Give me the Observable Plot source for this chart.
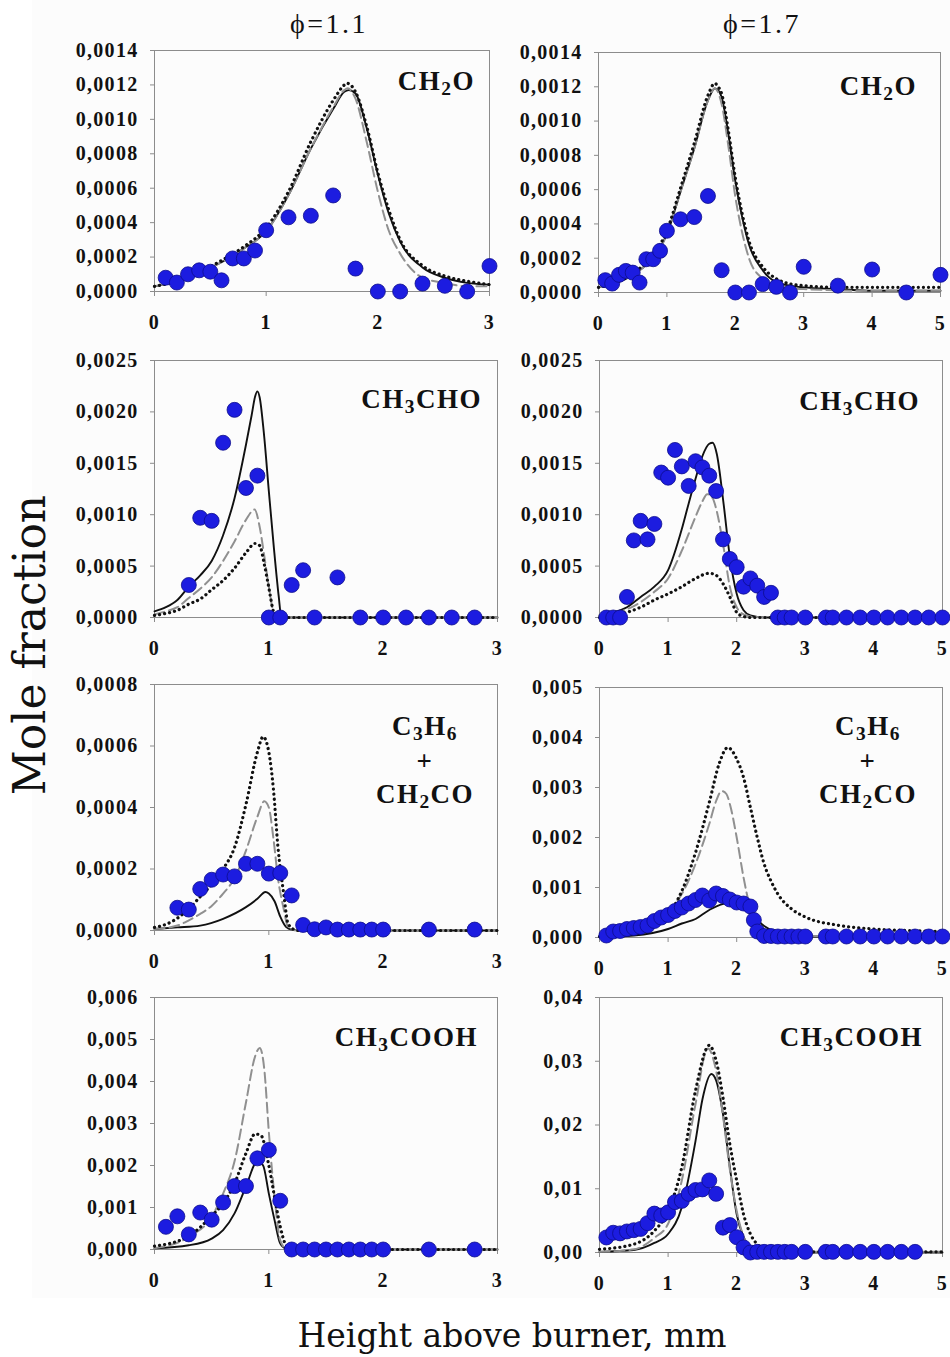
<!DOCTYPE html>
<html><head><meta charset="utf-8">
<script src="https://cdn.jsdelivr.net/npm/d3@7"></script>
<script src="https://cdn.jsdelivr.net/npm/@observablehq/plot@0.6"></script>
<style>
body{margin:0;background:#fff}
#wrap{position:relative;width:950px;height:1357px;overflow:hidden;background:#fff}
#bg{position:absolute;left:32px;top:0;width:918px;height:1298px;background:#fcfcfc}
.sp{position:absolute;font-family:"Liberation Serif",serif;font-weight:bold;font-size:27px;letter-spacing:1.5px;color:#111;white-space:nowrap;line-height:1}
.sp sub{font-size:0.72em;position:relative;top:0.28em;vertical-align:baseline}
.multi{line-height:33px;text-align:center;transform:translateX(-50%)}
.phi{position:absolute;font-family:"Liberation Serif",serif;font-size:28px;letter-spacing:2.5px;line-height:1;transform:translateX(-50%);white-space:nowrap;color:#111}
.axt{position:absolute;font-family:"DejaVu Serif",serif;line-height:1;white-space:nowrap;color:#111}
</style></head>
<body><div id="wrap"><div id="bg"></div></div>
<script>
// ---------- tick values ----------
const xTicks3 = [0, 1, 2, 3];
const xTicks5 = [0, 1, 2, 3, 4, 5];
const yTicksCH2O = [0, 0.0002, 0.0004, 0.0006, 0.0008, 0.0010, 0.0012, 0.0014];
const yTicksCH3CHO = [0, 0.0005, 0.0010, 0.0015, 0.0020, 0.0025];
const yTicksC3H6_11 = [0, 0.0002, 0.0004, 0.0006, 0.0008];
const yTicksC3H6_17 = [0, 0.001, 0.002, 0.003, 0.004, 0.005];
const yTicksACID_11 = [0, 0.001, 0.002, 0.003, 0.004, 0.005, 0.006];
const yTicksACID_17 = [0, 0.01, 0.02, 0.03, 0.04];

// ---------- CH2O, phi = 1.1 ----------
const ch2o11Exp = [[0.1,0.00008],[0.2,0.000052],[0.3,0.0001],[0.4,0.000123],[0.5,0.000115],[0.6,0.000065],[0.7,0.000192],[0.8,0.000192],[0.9,0.000238],[1.0,0.000356],[1.2,0.000431],[1.4,0.00044],[1.6,0.000558],[1.8,0.000133],[2.0,0],[2.2,0],[2.4,0.000046],[2.6,0.000033],[2.8,0],[3.0,0.000148]];
const ch2o11Solid = [[0,0.00003],[0.2,0.00006],[0.4,0.00011],[0.6,0.00017],[0.8,0.00025],[1.0,0.00035],[1.2,0.00056],[1.4,0.00083],[1.6,0.00106],[1.7,0.00116],[1.74,0.00117],[1.8,0.00115],[1.9,0.00095],[2.0,0.00068],[2.1,0.00045],[2.2,0.00029],[2.4,0.00014],[2.6,0.00008],[2.8,0.00005],[3.0,0.00004]];
const ch2o11Dashed = [[0,0.00003],[0.2,0.00006],[0.4,0.00011],[0.6,0.00017],[0.8,0.00025],[1.0,0.00035],[1.2,0.00056],[1.4,0.00083],[1.6,0.00107],[1.7,0.00117],[1.73,0.00118],[1.8,0.00112],[1.9,0.00087],[2.0,0.00058],[2.1,0.00035],[2.2,0.00022],[2.4,0.00008],[2.6,0.00005],[2.8,0.00003],[3.0,0.00003]];
const ch2o11Dotted = [[0,0.00003],[0.2,0.00006],[0.4,0.00011],[0.6,0.00018],[0.8,0.00026],[1.0,0.00037],[1.2,0.00058],[1.4,0.00087],[1.6,0.00111],[1.7,0.0012],[1.72,0.00121],[1.8,0.00116],[1.9,0.00096],[2.0,0.00069],[2.1,0.00047],[2.2,0.0003],[2.4,0.00015],[2.6,0.00009],[2.8,0.00006],[3.0,0.00004]];

// ---------- CH2O, phi = 1.7 ----------
const ch2o17Exp = [[0.1,0.000072],[0.2,0.000052],[0.3,0.000103],[0.4,0.000126],[0.5,0.000116],[0.6,0.000058],[0.7,0.000194],[0.8,0.000194],[0.9,0.000243],[1.0,0.00036],[1.2,0.000427],[1.4,0.00044],[1.6,0.000563],[1.8,0.00013],[2.0,0],[2.2,0],[2.4,0.000049],[2.6,0.000033],[2.8,0],[3.0,0.00015],[3.5,0.00004],[4.0,0.000134],[4.5,0],[5.0,0.000103]];
const ch2o17Solid = [[0,0.00003],[0.2,0.00005],[0.4,0.00008],[0.6,0.00013],[0.8,0.0002],[1.0,0.00034],[1.2,0.00059],[1.4,0.00084],[1.6,0.00112],[1.7,0.00119],[1.75,0.00118],[1.8,0.00114],[1.9,0.00092],[2.0,0.00065],[2.1,0.00044],[2.2,0.00028],[2.4,0.00013],[2.6,0.00006],[2.8,0.00004],[3.0,0.00003],[3.5,0.00002],[4.0,0.00001],[5.0,0.00001]];
const ch2o17Dashed = [[0,0.00003],[0.2,0.00005],[0.4,0.00008],[0.6,0.00013],[0.8,0.0002],[1.0,0.00034],[1.2,0.00059],[1.4,0.00084],[1.6,0.00112],[1.7,0.00119],[1.8,0.0011],[1.9,0.00085],[2.0,0.00056],[2.1,0.00035],[2.2,0.0002],[2.4,0.00008],[2.6,0.00004],[3.0,0.00002],[4.0,0.00001],[5.0,0.00001]];
const ch2o17Dotted = [[0,0.00003],[0.2,0.00005],[0.4,0.00009],[0.6,0.00014],[0.8,0.00022],[1.0,0.00036],[1.2,0.00061],[1.4,0.00087],[1.6,0.00115],[1.7,0.00122],[1.75,0.0012],[1.8,0.00116],[1.9,0.00094],[2.0,0.00067],[2.1,0.00046],[2.2,0.0003],[2.4,0.00015],[2.6,0.00008],[2.8,0.00005],[3.0,0.00004],[3.5,0.00003],[4.0,0.00003],[5.0,0.00003]];

// ---------- CH3CHO, phi = 1.1 ----------
const ch3cho11Exp = [[0.3,0.000316],[0.4,0.00097],[0.5,0.00094],[0.6,0.0017],[0.7,0.00202],[0.8,0.00126],[0.9,0.00138],[1.0,0],[1.1,0],[1.2,0.000316],[1.3,0.00046],[1.4,0],[1.6,0.00039],[1.8,0],[2.0,0],[2.2,0],[2.4,0],[2.6,0],[2.8,0]];
const ch3cho11Solid = [[0,0.00006],[0.1,0.0001],[0.2,0.00017],[0.3,0.0003],[0.4,0.00041],[0.5,0.00055],[0.6,0.0008],[0.7,0.00116],[0.8,0.00168],[0.85,0.00197],[0.88,0.00215],[0.9,0.0022],[0.92,0.00214],[0.956,0.0018],[1.0,0.00123],[1.044,0.00068],[1.087,0.0002],[1.11,0],[1.5,0],[3.0,0]];
const ch3cho11Dashed = [[0,0.00003],[0.1,0.00006],[0.2,0.0001],[0.3,0.00019],[0.4,0.00028],[0.5,0.00039],[0.6,0.00055],[0.7,0.00074],[0.8,0.00095],[0.875,0.00105],[0.92,0.00088],[0.96,0.0006],[1.0,0.0003],[1.04,0.00005],[1.07,0],[1.5,0],[3.0,0]];
const ch3cho11Dotted = [[0,0.00002],[0.1,0.00004],[0.2,0.00007],[0.3,0.00013],[0.4,0.00018],[0.5,0.00027],[0.6,0.00036],[0.7,0.00048],[0.8,0.00063],[0.88,0.00072],[0.92,0.0007],[0.96,0.00052],[1.0,0.00029],[1.04,0.00006],[1.07,0],[1.5,0],[3.0,0]];

// ---------- CH3CHO, phi = 1.7 ----------
const ch3cho17Exp = [[0.1,0],[0.2,0],[0.3,0],[0.4,0.0002],[0.5,0.00075],[0.6,0.00094],[0.7,0.00076],[0.8,0.00091],[0.9,0.00141],[1.0,0.00136],[1.1,0.00163],[1.2,0.00147],[1.3,0.00128],[1.4,0.00152],[1.5,0.00146],[1.6,0.00138],[1.7,0.00123],[1.8,0.00076],[1.9,0.00057],[2.0,0.00049],[2.1,0.0003],[2.2,0.00038],[2.3,0.00031],[2.4,0.0002],[2.5,0.00024],[2.6,0],[2.7,0],[2.8,0],[3.0,0],[3.3,0],[3.4,0],[3.6,0],[3.8,0],[4.0,0],[4.2,0],[4.4,0],[4.6,0],[4.8,0],[5.0,0]];
const ch3cho17Solid = [[0,0.00002],[0.2,0.00005],[0.4,0.0001],[0.6,0.0002],[0.8,0.0003],[1.0,0.00046],[1.2,0.00086],[1.3,0.00111],[1.4,0.00135],[1.5,0.00157],[1.6,0.00169],[1.65,0.0017],[1.71,0.00159],[1.81,0.0011],[1.9,0.00059],[2.0,0.00023],[2.1,0.00007],[2.2,0.00002],[2.4,0],[5.0,0]];
const ch3cho17Dashed = [[0,0.00002],[0.2,0.00004],[0.4,0.00008],[0.6,0.00015],[0.8,0.00025],[1.0,0.00038],[1.2,0.00065],[1.4,0.00098],[1.5,0.00113],[1.57,0.0012],[1.65,0.00116],[1.7,0.00106],[1.8,0.00072],[1.9,0.0003],[2.0,0.0001],[2.1,0.00003],[2.2,0.00001],[2.4,0],[5.0,0]];
const ch3cho17Dotted = [[0,0],[0.2,0.00002],[0.4,0.00005],[0.6,0.0001],[0.8,0.00017],[1.0,0.00023],[1.2,0.0003],[1.4,0.00038],[1.6,0.00043],[1.7,0.00041],[1.8,0.00033],[1.9,0.0002],[2.0,0.00005],[2.1,0.00001],[2.2,0],[5.0,0]];

// ---------- C3H6 + CH2CO, phi = 1.1 ----------
const c3h611Exp = [[0.2,0.000074],[0.3,0.000068],[0.4,0.000135],[0.5,0.000165],[0.6,0.000182],[0.7,0.000176],[0.8,0.000217],[0.9,0.000217],[1.0,0.000185],[1.1,0.000187],[1.2,0.000114],[1.3,0.000018],[1.4,0.000004],[1.5,0.00001],[1.6,0.000003],[1.7,0.000003],[1.8,0.000003],[1.9,0.000003],[2.0,0.000003],[2.4,0.000003],[2.8,0.000003]];
const c3h611Solid = [[0,0.000005],[0.2,0.00001],[0.4,0.000016],[0.6,0.000038],[0.8,0.000076],[0.9,0.000103],[0.97,0.000125],[1.0,0.00012],[1.05,0.000095],[1.1,0.000045],[1.15,0.000012],[1.2,0.000003],[1.3,0],[3.0,0]];
const c3h611Dashed = [[0,0.000005],[0.2,0.000016],[0.3,0.000033],[0.4,0.000054],[0.5,0.00008],[0.6,0.00012],[0.7,0.00017],[0.8,0.00026],[0.9,0.00037],[0.96,0.00042],[1.0,0.0004],[1.04,0.0003],[1.08,0.00017],[1.13,0.00007],[1.17,0.00001],[1.25,0],[3.0,0]];
const c3h611Dotted = [[0,0.00001],[0.1,0.00002],[0.2,0.00004],[0.3,0.00007],[0.4,0.00011],[0.5,0.00015],[0.6,0.0002],[0.7,0.00027],[0.8,0.00041],[0.9,0.00058],[0.95,0.00063],[1.0,0.00058],[1.04,0.00046],[1.08,0.00027],[1.13,0.00012],[1.17,0.00002],[1.25,0],[3.0,0]];

// ---------- C3H6 + CH2CO, phi = 1.7 ----------
const c3h617Exp = [[0.1,0.00004],[0.2,0.00012],[0.3,0.00013],[0.4,0.00017],[0.5,0.00019],[0.6,0.00021],[0.7,0.00024],[0.8,0.00033],[0.9,0.0004],[1.0,0.00045],[1.1,0.00053],[1.2,0.0006],[1.3,0.00068],[1.4,0.00075],[1.5,0.00084],[1.6,0.00074],[1.7,0.00088],[1.8,0.00083],[1.9,0.00076],[2.0,0.0007],[2.1,0.00068],[2.2,0.00062],[2.25,0.00035],[2.3,0.00012],[2.4,0.00003],[2.5,0.00003],[2.6,0.00002],[2.7,0.00002],[2.8,0.00002],[2.9,0.00002],[3.0,0.00002],[3.3,0.00002],[3.4,0.00002],[3.6,0.00002],[3.8,0.00002],[4.0,0.00002],[4.2,0.00002],[4.4,0.00002],[4.6,0.00002],[4.8,0.00002],[5.0,0.00002]];
const c3h617Solid = [[0,0.00001],[0.5,0.00004],[1.0,0.00017],[1.2,0.00028],[1.4,0.00037],[1.6,0.00055],[1.85,0.00068],[2.0,0.00064],[2.2,0.00048],[2.4,0.00023],[2.6,0.00009],[2.8,0.00004],[3.0,0.00002],[5.0,0.00001]];
const c3h617Dashed = [[0,0.00002],[0.5,0.0001],[1.0,0.00052],[1.2,0.00087],[1.4,0.00147],[1.6,0.00227],[1.7,0.00273],[1.78,0.00293],[1.85,0.00287],[1.9,0.00267],[2.0,0.002],[2.1,0.0012],[2.2,0.00057],[2.3,0.0002],[2.4,0.00008],[2.6,0.00004],[3.0,0.00003],[5.0,0.00003]];
const c3h617Dotted = [[0,0.00002],[0.5,0.00013],[1.0,0.00047],[1.2,0.00093],[1.4,0.0017],[1.6,0.0027],[1.75,0.0035],[1.87,0.0038],[2.0,0.00357],[2.1,0.0032],[2.2,0.0026],[2.3,0.002],[2.4,0.00147],[2.5,0.00113],[2.6,0.00087],[2.8,0.00057],[3.0,0.00041],[3.5,0.00024],[4.0,0.00017],[4.5,0.00014],[5.0,0.00012]];

// ---------- CH3COOH, phi = 1.1 ----------
const acid11Exp = [[0.1,0.00054],[0.2,0.00079],[0.3,0.00036],[0.4,0.00088],[0.5,0.00071],[0.6,0.00112],[0.7,0.00151],[0.8,0.00151],[0.9,0.00217],[1.0,0.00237],[1.1,0.00116],[1.2,0],[1.3,0],[1.4,0],[1.5,0],[1.6,0],[1.7,0],[1.8,0],[1.9,0],[2.0,0],[2.4,0],[2.8,0]];
const acid11Solid = [[0,0.00003],[0.3,0.0001],[0.5,0.00026],[0.6,0.00046],[0.7,0.00086],[0.8,0.0015],[0.9,0.0021],[0.95,0.002],[1.0,0.00133],[1.05,0.0007],[1.1,0.00014],[1.15,0.00002],[1.2,0],[3.0,0]];
const acid11Dashed = [[0,0.00003],[0.3,0.0003],[0.5,0.00078],[0.6,0.00133],[0.7,0.0021],[0.8,0.0035],[0.88,0.0046],[0.92,0.0048],[0.96,0.0043],[1.0,0.0028],[1.05,0.00125],[1.1,0.00022],[1.15,0.00002],[1.2,0],[3.0,0]];
const acid11Dotted = [[0,0.00008],[0.3,0.00032],[0.5,0.0008],[0.6,0.0011],[0.7,0.00157],[0.8,0.00229],[0.88,0.00275],[0.93,0.00272],[1.0,0.002],[1.05,0.00125],[1.1,0.00054],[1.15,0.0001],[1.2,0],[3.0,0]];

// ---------- CH3COOH, phi = 1.7 ----------
const acid17Exp = [[0.1,0.00236],[0.2,0.0031],[0.3,0.003],[0.4,0.0033],[0.5,0.0035],[0.6,0.0037],[0.7,0.0046],[0.8,0.0061],[0.9,0.0058],[1.0,0.0063],[1.1,0.0079],[1.2,0.0081],[1.3,0.0092],[1.4,0.0098],[1.5,0.0099],[1.6,0.0113],[1.7,0.0092],[1.8,0.0039],[1.9,0.0043],[2.0,0.0024],[2.1,0.0008],[2.2,0],[2.3,0.0001],[2.4,0.0001],[2.5,0.0001],[2.6,0.0001],[2.7,0.0001],[2.8,0.0001],[3.0,0.0001],[3.3,0.0001],[3.4,0.0001],[3.6,0.0001],[3.8,0.0001],[4.0,0.0001],[4.2,0.0001],[4.4,0.0001],[4.6,0.0001]];
const acid17Solid = [[0,0.0001],[0.5,0.0004],[0.8,0.0015],[1.0,0.0029],[1.2,0.0071],[1.4,0.0175],[1.5,0.024],[1.63,0.028],[1.7,0.027],[1.8,0.0217],[1.9,0.0134],[2.0,0.006],[2.1,0.0024],[2.2,0.0008],[2.3,0.0002],[2.5,0],[5.0,0]];
const acid17Dashed = [[0,0.0001],[0.5,0.0005],[0.8,0.0023],[1.0,0.0045],[1.2,0.0113],[1.4,0.0233],[1.58,0.032],[1.7,0.0285],[1.8,0.0215],[1.9,0.013],[2.0,0.0065],[2.1,0.0025],[2.2,0.0008],[2.4,0.0002],[3.0,0.0001],[5.0,0.0001]];
const acid17Dotted = [[0,0.0005],[0.5,0.0013],[0.8,0.0034],[1.0,0.0065],[1.2,0.0134],[1.4,0.0254],[1.6,0.0325],[1.7,0.0301],[1.8,0.0243],[1.9,0.017],[2.0,0.0113],[2.1,0.006],[2.2,0.0029],[2.3,0.0013],[2.4,0.0006],[2.6,0.0002],[3.0,0.0001],[5.0,0.0001]];

const wrap = document.getElementById("wrap");

function panel(cfg) {
  const mT = 20, mB = 45, mR = 12;
  const mL = cfg.frameL - cfg.left;
  const width = cfg.frameR - cfg.left + mR;
  const height = cfg.frameB - cfg.frameT + mT + mB;
  const fmt = d => d.toFixed(cfg.dec).replace(".", ",");
  const X = d => d[0], Y = d => d[1];
  const chart = Plot.plot({
    width, height,
    marginLeft: mL, marginRight: mR, marginTop: mT, marginBottom: mB,
    x: {domain: [0, cfg.xmax]},
    y: {domain: [0, cfg.ymax]},
    style: {fontFamily: '"Liberation Serif", serif', fontWeight: "bold", fontSize: "20px", letterSpacing: "1.3px", color: "#111", background: "transparent", overflow: "visible"},
    marks: [
      Plot.frame({stroke: "#8c8c8c", strokeWidth: 1}),
      Plot.axisX({ticks: cfg.xTicks, tickFormat: d => String(d), tickSize: 5, tickPadding: 18, label: null, stroke: "#8c8c8c"}),
      Plot.axisY({ticks: cfg.yTicks, tickFormat: fmt, tickSize: 4, tickPadding: 12, label: null, stroke: "#8c8c8c"}),
      Plot.line(cfg.solid, {x: X, y: Y, stroke: "#111", strokeWidth: 1.9, curve: "monotone-x"}),
      Plot.line(cfg.dashed, {x: X, y: Y, stroke: "#909090", strokeWidth: 2, strokeDasharray: "10,5", curve: "monotone-x"}),
      Plot.line(cfg.dotted, {x: X, y: Y, stroke: "#111", strokeWidth: 3.2, strokeLinecap: "round", strokeDasharray: "0.1,5", curve: "monotone-x"}),
      Plot.dot(cfg.exp, {x: X, y: Y, r: 7.5, fill: "#1c1ce0", stroke: "#0c0c8c", strokeWidth: 0.8})
    ]
  });
  chart.style.position = "absolute";
  chart.style.left = cfg.left + "px";
  chart.style.top = (cfg.frameT - mT) + "px";
  wrap.appendChild(chart);
}

const LEFT = 55, RIGHT = 500;
panel({left: LEFT, frameL: 154, frameR: 489, frameT: 50, frameB: 291, xmax: 3, ymax: 0.0014, xTicks: xTicks3, yTicks: yTicksCH2O, dec: 4, exp: ch2o11Exp, solid: ch2o11Solid, dashed: ch2o11Dashed, dotted: ch2o11Dotted});
panel({left: RIGHT, frameL: 598, frameR: 940, frameT: 52, frameB: 292, xmax: 5, ymax: 0.0014, xTicks: xTicks5, yTicks: yTicksCH2O, dec: 4, exp: ch2o17Exp, solid: ch2o17Solid, dashed: ch2o17Dashed, dotted: ch2o17Dotted});
panel({left: LEFT, frameL: 154, frameR: 497, frameT: 360, frameB: 617, xmax: 3, ymax: 0.0025, xTicks: xTicks3, yTicks: yTicksCH3CHO, dec: 4, exp: ch3cho11Exp, solid: ch3cho11Solid, dashed: ch3cho11Dashed, dotted: ch3cho11Dotted});
panel({left: RIGHT, frameL: 599, frameR: 942, frameT: 360, frameB: 617, xmax: 5, ymax: 0.0025, xTicks: xTicks5, yTicks: yTicksCH3CHO, dec: 4, exp: ch3cho17Exp, solid: ch3cho17Solid, dashed: ch3cho17Dashed, dotted: ch3cho17Dotted});
panel({left: LEFT, frameL: 154, frameR: 497, frameT: 684, frameB: 930, xmax: 3, ymax: 0.0008, xTicks: xTicks3, yTicks: yTicksC3H6_11, dec: 4, exp: c3h611Exp, solid: c3h611Solid, dashed: c3h611Dashed, dotted: c3h611Dotted});
panel({left: RIGHT, frameL: 599, frameR: 942, frameT: 687, frameB: 937, xmax: 5, ymax: 0.005, xTicks: xTicks5, yTicks: yTicksC3H6_17, dec: 3, exp: c3h617Exp, solid: c3h617Solid, dashed: c3h617Dashed, dotted: c3h617Dotted});
panel({left: LEFT, frameL: 154, frameR: 497, frameT: 997, frameB: 1249, xmax: 3, ymax: 0.006, xTicks: xTicks3, yTicks: yTicksACID_11, dec: 3, exp: acid11Exp, solid: acid11Solid, dashed: acid11Dashed, dotted: acid11Dotted});
panel({left: RIGHT, frameL: 599, frameR: 942, frameT: 997, frameB: 1252, xmax: 5, ymax: 0.04, xTicks: xTicks5, yTicks: yTicksACID_17, dec: 2, exp: acid17Exp, solid: acid17Solid, dashed: acid17Dashed, dotted: acid17Dotted});

// ---------- text ----------
function addHTML(html) { wrap.insertAdjacentHTML("beforeend", html); }
addHTML('<div class="phi" style="left:329px;top:10px">ϕ=1.1</div>');
addHTML('<div class="phi" style="left:762px;top:10px">ϕ=1.7</div>');
addHTML('<div class="sp" style="right:475px;top:68px">CH<sub>2</sub>O</div>');
addHTML('<div class="sp" style="right:33px;top:73px">CH<sub>2</sub>O</div>');
addHTML('<div class="sp" style="right:468px;top:386px">CH<sub>3</sub>CHO</div>');
addHTML('<div class="sp" style="right:30px;top:388px">CH<sub>3</sub>CHO</div>');
addHTML('<div class="sp multi" style="left:425px;top:710px">C<sub>3</sub>H<sub>6</sub><br>+<br>CH<sub>2</sub>CO</div>');
addHTML('<div class="sp multi" style="left:868px;top:710px">C<sub>3</sub>H<sub>6</sub><br>+<br>CH<sub>2</sub>CO</div>');
addHTML('<div class="sp" style="right:472px;top:1024px">CH<sub>3</sub>COOH</div>');
addHTML('<div class="sp" style="right:27px;top:1024px">CH<sub>3</sub>COOH</div>');
addHTML('<div class="axt" style="left:30px;top:645px;font-size:44px;transform:translate(-50%,-50%) rotate(-90deg)">Mole fraction</div>');
addHTML('<div class="axt" style="left:512px;top:1319px;font-size:33px;transform:translateX(-50%)">Height above burner, mm</div>');
</script>
</body></html>
